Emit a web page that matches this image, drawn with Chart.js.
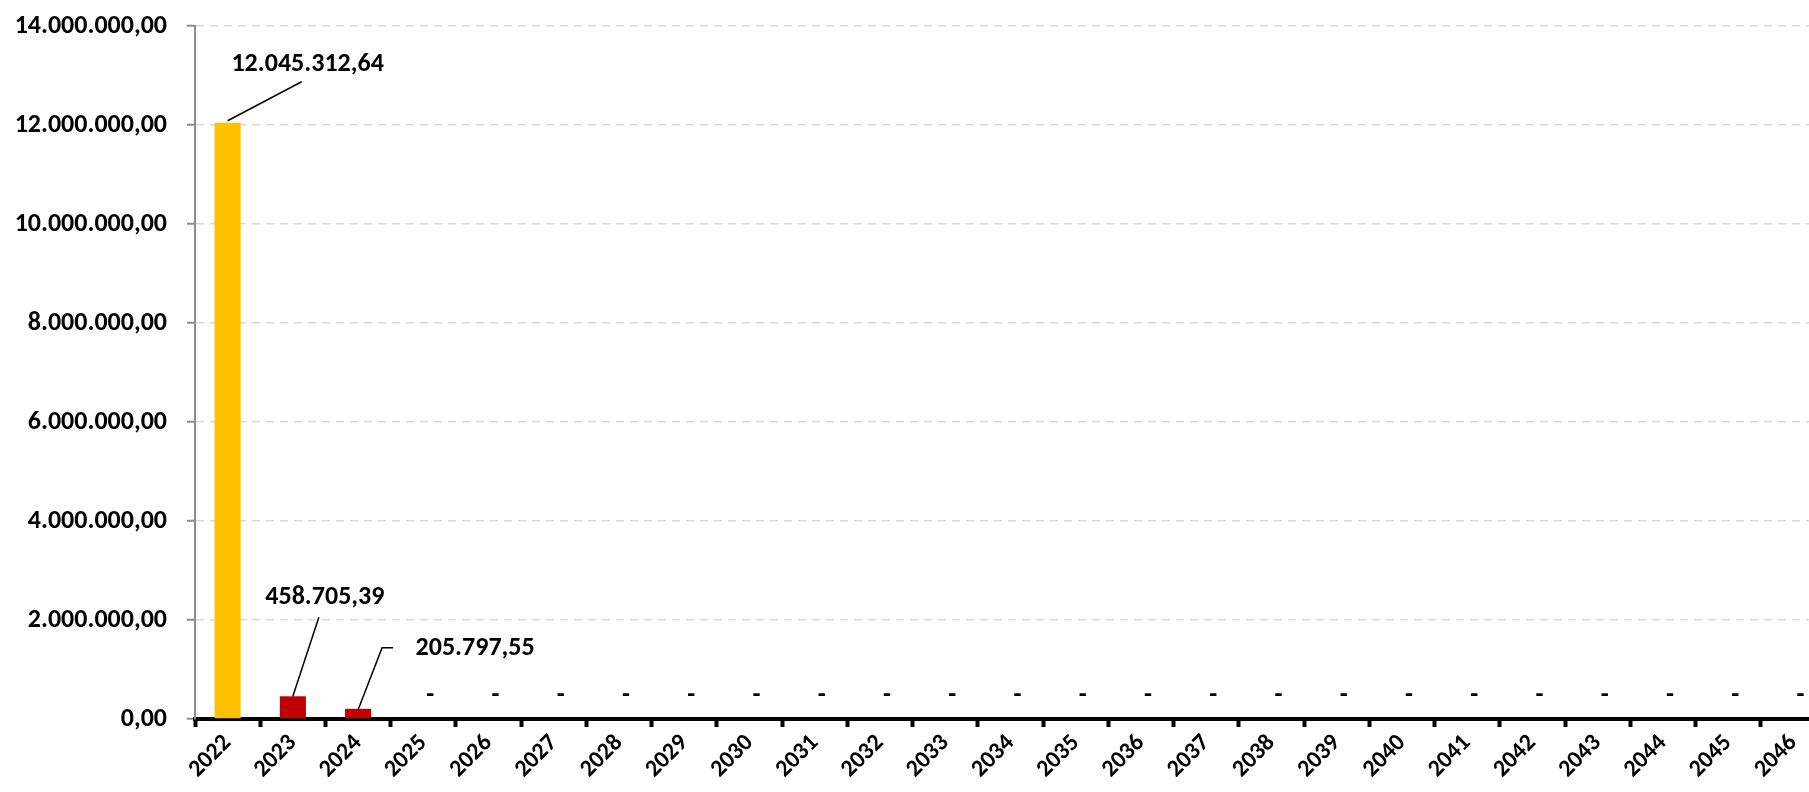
<!DOCTYPE html>
<html>
<head>
<meta charset="utf-8">
<script src="https://cdn.jsdelivr.net/npm/chart.js@4.4.1/dist/chart.umd.min.js"></script>
<style>
html,body{margin:0;padding:0;background:#fff;overflow:hidden;}
#wrap{width:1840px;height:792px;}
</style>
</head>
<body>
<div id="wrap"><canvas id="c" width="1840" height="792"></canvas></div>
<script>
// ---- data ----
const years = ['2022','2023','2024','2025','2026','2027','2028','2029','2030','2031','2032','2033','2034','2035','2036','2037','2038','2039','2040','2041','2042','2043','2044','2045','2046'];
const realizado = [12045312.64, null, null, null, null, null, null, null, null, null, null, null, null, null, null, null, null, null, null, null, null, null, null, null, null];
const projetado = [null, 458705.39, 205797.55, 0, 0, 0, 0, 0, 0, 0, 0, 0, 0, 0, 0, 0, 0, 0, 0, 0, 0, 0, 0, 0, 0];
const yTicks = [0, 2000000, 4000000, 6000000, 8000000, 10000000, 12000000, 14000000];

// label placement styles (offsets relative to bar top, pixels)
const labelStyle = {
  '0-0': {dx: 80, dy: -58, path: [[0,-2],[74,-41]]},
  '1-1': {dx: 32, dy: -99, path: [[0,0],[26,-79]]},
  '1-2': {dx: 117, dy: -60, path: [[0,1],[24,-61],[35,-61]]}
};
const targetArea = {top: 26, right: 1826, bottom: 719};
const layoutPadding = {top: 26, right: 14, left: 0, bottom: 0};

function fmt(v){
  const neg = v < 0; v = Math.abs(v);
  const s = v.toFixed(2).split('.');
  const int = s[0].replace(/\B(?=(\d{3})+(?!\d))/g, '.');
  return (neg?'-':'') + int + ',' + s[1];
}

const FONT = 'Carlito, Calibri, Lato, sans-serif';

const labelPlugin = {
  id: 'valueLabels',
  afterDatasetsDraw(chart){
    const ctx = chart.ctx;
    ctx.save();
    ctx.font = 'bold 26px ' + FONT;
    ctx.fillStyle = '#000';
    ctx.strokeStyle = '#000';
    ctx.lineWidth = 1.5;
    ctx.textAlign = 'center';
    ctx.textBaseline = 'middle';
    chart.data.datasets.forEach((ds, di) => {
      const meta = chart.getDatasetMeta(di);
      meta.data.forEach((bar, i) => {
        const v = ds.data[i];
        if (v === null || v === undefined) return;
        if (v === 0) {
          ctx.fillText('-', bar.x + 7, bar.y - 24);
          return;
        }
        const st = labelStyle[di + '-' + i];
        if (!st) return;
        ctx.beginPath();
        st.path.forEach((p, k) => {
          if (k === 0) ctx.moveTo(bar.x + p[0], bar.y + p[1]);
          else ctx.lineTo(bar.x + p[0], bar.y + p[1]);
        });
        ctx.stroke();
        ctx.fillText(fmt(v), bar.x + st.dx, bar.y + st.dy);
      });
    });
    ctx.restore();
  }
};

const chart = new Chart(document.getElementById('c'), {
  type: 'bar',
  data: {
    labels: years,
    datasets: [
      {label: 'Realizado', data: realizado, backgroundColor: '#FFC000', borderWidth: 0},
      {label: 'Projetado', data: projetado, backgroundColor: '#C00000', borderWidth: 0}
    ]
  },
  options: {
    responsive: false,
    animation: false,
    devicePixelRatio: 1,
    layout: {padding: layoutPadding},
    plugins: {legend: {display: false}, tooltip: {enabled: false}},
    datasets: {bar: {categoryPercentage: 1, barPercentage: 0.4}},
    scales: {
      x: {
        stacked: true,
        afterFit(scale){ scale.height = 73; scale.paddingLeft = 0; scale.paddingRight = 0; },
        border: {display: true, color: '#000', width: 4},
        grid: {display: true, offset: true, drawOnChartArea: false, drawTicks: true, tickLength: 8, tickWidth: 4, tickColor: '#000'},
        ticks: {color: '#000', font: {family: FONT, weight: 'bold', size: 24}, minRotation: 45, maxRotation: 45, padding: 2, autoSkip: false}
      },
      y: {
        stacked: true,
        min: 0, max: 14000000,
        afterFit(scale){ scale.width = 195; scale.paddingTop = 0; scale.paddingBottom = 0; },
        afterBuildTicks(scale){ scale.ticks = yTicks.map(v => ({value: v})); },
        border: {display: true, color: '#8c8c8c', width: 2, dash: [8, 6]},
        grid: {color: '#d9d9d9', lineWidth: 1.5, tickColor: '#8c8c8c', tickLength: 8, tickWidth: 2, tickBorderDash: []},
        ticks: {color: '#000', font: {family: FONT, weight: 'bold', size: 26}, padding: 20, callback: v => fmt(v)}
      }
    }
  },
  plugins: [labelPlugin]
});

// pin the plot area to the reference frame
for (let k = 0; k < 5; k++) {
  const a = chart.chartArea;
  const dt = targetArea.top - a.top;
  const dr = targetArea.right - a.right;
  const db = targetArea.bottom - a.bottom;
  if (Math.abs(dt) < 0.5 && Math.abs(dr) < 0.5 && Math.abs(db) < 0.5) break;
  layoutPadding.top = Math.max(0, layoutPadding.top + dt);
  layoutPadding.right = layoutPadding.right - dr;
  layoutPadding.bottom = Math.max(0, layoutPadding.bottom - db);
  chart.options.layout.padding = Object.assign({}, layoutPadding);
  chart.update('none');
}
</script>
</body>
</html>
